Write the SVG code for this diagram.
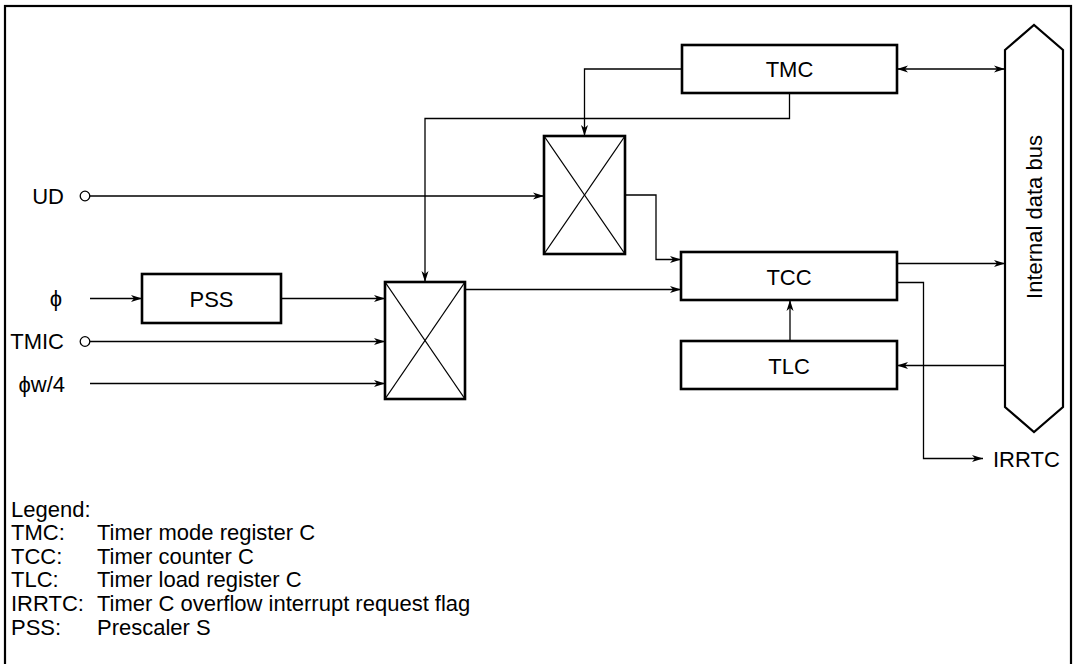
<svg xmlns="http://www.w3.org/2000/svg" width="1076" height="664" viewBox="0 0 1076 664">
<style>
  .box { fill: #fff; stroke: #000; stroke-width: 2.6; }
  .mux { fill: #fff; stroke: #000; stroke-width: 2.6; }
  .diag { stroke: #000; stroke-width: 1.3; fill: none; }
  .wire { fill: none; stroke: #000; stroke-width: 1.3; }
  .arr { marker-end: url(#ah); }
  .lbl { font-family: "Liberation Sans", Arial, sans-serif; font-size: 22px; fill: #000; }
  .mid { text-anchor: middle; }
  .end { text-anchor: end; }
  .pin { fill: #fff; stroke: #000; stroke-width: 1.3; }
</style>
<defs>
  <marker id="ah" markerUnits="userSpaceOnUse" markerWidth="12" markerHeight="8" refX="11" refY="4" orient="auto">
    <path d="M0,0.5 L11,4 L0,7.5 L3,4 z" fill="#000"/>
  </marker>
  <marker id="ahs" markerUnits="userSpaceOnUse" markerWidth="12" markerHeight="8" refX="0" refY="4" orient="auto">
    <path d="M11,0.5 L0,4 L11,7.5 L8,4 z" fill="#000"/>
  </marker>
</defs>
<rect x="0" y="0" width="1076" height="664" fill="#fff"/>
<rect x="5" y="6" width="1066" height="670" fill="none" stroke="#000" stroke-width="2.2"/>

<g id="connectors">
  <!-- TMC to upper selector -->
  <polyline class="wire arr" points="682,69 584.5,69 584.5,136"/>
  <!-- TMC to lower selector -->
  <polyline class="wire arr" points="789.5,93 789.5,118.5 425,118.5 425,282"/>
  <!-- TMC <-> bus -->
  <line class="wire" x1="897" y1="69" x2="1005" y2="69" marker-start="url(#ahs)" marker-end="url(#ah)"/>
  <!-- UD -->
  <line class="wire arr" x1="90" y1="196" x2="544" y2="196"/>
  <!-- upper selector to TCC -->
  <polyline class="wire arr" points="625,195 656,195 656,259.5 681,259.5"/>
  <!-- phi to PSS -->
  <line class="wire arr" x1="90" y1="298.5" x2="142" y2="298.5"/>
  <!-- PSS to selector -->
  <line class="wire arr" x1="281" y1="298.5" x2="385" y2="298.5"/>
  <!-- TMIC -->
  <line class="wire arr" x1="90" y1="341.5" x2="385" y2="341.5"/>
  <!-- phiw/4 -->
  <line class="wire arr" x1="90" y1="383.5" x2="385" y2="383.5"/>
  <!-- lower selector to TCC -->
  <line class="wire arr" x1="465" y1="289.5" x2="681" y2="289.5"/>
  <!-- TCC to bus -->
  <line class="wire arr" x1="897" y1="263.5" x2="1005" y2="263.5"/>
  <!-- TCC to IRRTC -->
  <polyline class="wire arr" points="897,282.5 923.5,282.5 923.5,458.5 983,458.5"/>
  <!-- TLC to TCC -->
  <line class="wire arr" x1="790" y1="341" x2="790" y2="300"/>
  <!-- bus to TLC -->
  <line class="wire arr" x1="1005" y1="365.5" x2="897" y2="365.5"/>
</g>

<g id="TMC">
  <rect class="box" x="682" y="45" width="215" height="48"/>
  <text class="lbl mid" x="789.5" y="77">TMC</text>
</g>
<g id="MUX_UD">
  <rect class="mux" x="544" y="136" width="81" height="118"/>
  <line class="diag" x1="544" y1="136" x2="625" y2="254"/>
  <line class="diag" x1="625" y1="136" x2="544" y2="254"/>
</g>
<g id="MUX_CLK">
  <rect class="mux" x="385" y="282" width="80" height="117"/>
  <line class="diag" x1="385" y1="282" x2="465" y2="399"/>
  <line class="diag" x1="465" y1="282" x2="385" y2="399"/>
</g>
<g id="PSS">
  <rect class="box" x="142" y="274" width="139" height="49"/>
  <text class="lbl mid" x="211.5" y="306.5">PSS</text>
</g>
<g id="TCC">
  <rect class="box" x="681" y="252" width="216" height="48"/>
  <text class="lbl mid" x="789" y="284.5">TCC</text>
</g>
<g id="TLC">
  <rect class="box" x="681" y="341" width="216" height="48"/>
  <text class="lbl mid" x="789" y="373.5">TLC</text>
</g>
<g id="BUS">
  <polygon points="1005,50 1034,25 1063,50 1063,407 1034,432 1005,407" fill="#fff" stroke="#000" stroke-width="2.2"/>
  <text class="lbl mid" transform="translate(1042,217) rotate(-90)">Internal data bus</text>
</g>

<g id="UD">
  <text class="lbl end" x="64" y="203.5">UD</text>
  <circle class="pin" cx="85" cy="196" r="4.8"/>
</g>
<g id="PHI">
  <text class="lbl mid" x="56" y="306">ϕ</text>
</g>
<g id="TMIC">
  <text class="lbl end" x="64" y="349">TMIC</text>
  <circle class="pin" cx="85" cy="341.5" r="4.8"/>
</g>
<g id="PHIW4">
  <text class="lbl end" x="65" y="391.5">ϕw/4</text>
</g>
<g id="IRRTC">
  <text class="lbl" x="993" y="466.5">IRRTC</text>
</g>

<g id="legend" class="lbl">
  <text x="11" y="517">Legend:</text>
  <text x="11" y="540">TMC:</text><text x="97" y="540">Timer mode register C</text>
  <text x="11" y="564">TCC:</text><text x="97" y="564">Timer counter C</text>
  <text x="11" y="587">TLC:</text><text x="97" y="587">Timer load register C</text>
  <text x="11" y="611">IRRTC:</text><text x="97" y="611">Timer C overflow interrupt request flag</text>
  <text x="11" y="635">PSS:</text><text x="97" y="635">Prescaler S</text>
</g>
</svg>
